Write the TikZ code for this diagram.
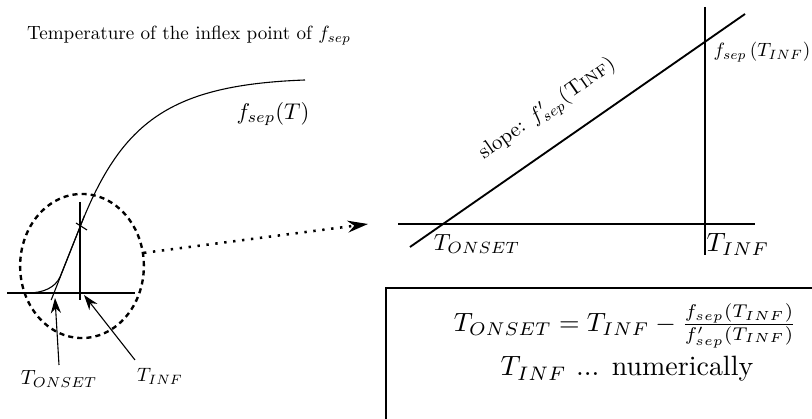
\documentclass[tikz,border=0pt]{standalone}
\usetikzlibrary{arrows.meta,shapes.geometric}
\newcommand{\fitw}[2]{\resizebox{#1}{!}{#2}}
\begin{document}
\begin{tikzpicture}[x=0.59pt,y=-0.59pt,
  thinline/.style={line width=0.65pt},
  panel/.style={line width=1.1pt},
  lbl/.style={inner sep=0pt},
  ptr/.style={line width=0.65pt,-{Stealth[length=9pt,width=6pt]}},
  zoomring/.style={draw,ellipse,line width=1.4pt,dash pattern=on 3pt off 2.4pt},
  zoomarrow/.style={line width=1.5pt,dash pattern=on 1.4pt off 3.9pt,-{Stealth[length=12pt,width=7pt]}},
  framebox/.style={line width=1pt}]
\useasboundingbox (0,0) rectangle (812,419);
\clip (0,0) rectangle (812,419);

% title
\node[lbl] (title) at (189,36) {\fitw{191pt}{Temperature of the inflex point of $f_{sep}$}};

% left panel
\draw[thinline] (7,293) -- (135,293);
\draw[thinline] (80,202) -- (80,300);
\draw[thinline] (28,293) .. controls (44,293) and (55.5,287) .. (60,277)
   .. controls (66,262) and (74,242) .. (80,227)
   .. controls (121.6,121.4) and (170,85) .. (305,80);
\draw[thinline] (51.2,300) -- (84.5,215.5);
\draw[thinline] (76,223) -- (87,230);
\node[lbl] (fsepT) at (273,114) {\fitw{43pt}{$f_{sep}(T)$}};

\node[zoomring,minimum width=73pt,minimum height=85pt,inner sep=0pt] (ring) at (82,266) {};

\node[lbl] (tonL) at (59,379) {\fitw{45pt}{$T_{ONSET}$}};
\node[lbl] (tinfL) at (160,376) {\fitw{27pt}{$T_{INF}$}};
\coordinate (onsetTip) at (55,298);
\coordinate (infTip) at (84,295);
\coordinate (tonTail) at (59,365);
\coordinate (tinfTail) at (135,360);
\draw[ptr] (tonTail) -- (onsetTip);
\draw[ptr] (tinfTail) -- (infTip);

% zoom arrow
\coordinate (zoomTip) at (368,224);
\draw[zoomarrow] (ring.12) -- (zoomTip);

% right panel
\draw[panel] (398,224) -- (755,224);
\draw[panel] (705,7) -- (705,255);
\draw[panel] (410,247) -- (745,14);
\node[lbl] (tonR) at (477,244) {\fitw{51pt}{$T_{ONSET}$}};
\node[lbl] (tinfR) at (738,244) {\fitw{37pt}{$T_{INF}$}};
\node[lbl] (fsepR) at (762,52) {\fitw{57pt}{$f_{sep}\,(T_{INF})$}};
\node[lbl,rotate=34.8] (slope) at (548,110) {\fitw{95pt}{slope: $f'_{sep}($\textsc{Tinf}$)$}};

% result box
\draw[framebox] (386,440) -- (386,288) -- (840,288);
\node[lbl] (formula) at (625,326) {\fitw{202pt}{$T_{ONSET}=T_{INF}-\frac{f_{sep}(T_{INF})}{f'_{sep}(T_{INF})}$}};
\node[lbl,anchor=base] (numer) at (627,376) {\fitw{149pt}{$T_{INF}$ ... numerically}};
\end{tikzpicture}
\end{document}
